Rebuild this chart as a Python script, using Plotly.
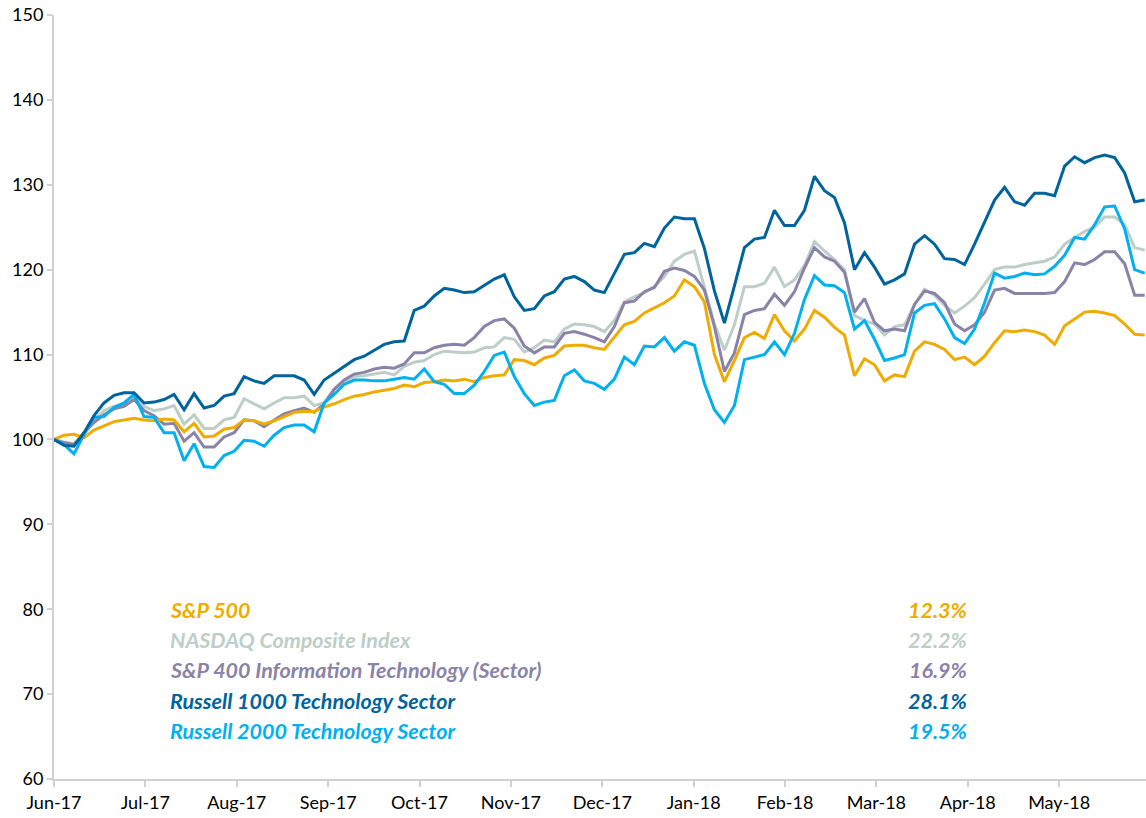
import numpy as np
import plotly.graph_objects as go

month_labels = ["Jun-17", "Jul-17", "Aug-17", "Sep-17", "Oct-17", "Nov-17",
                "Dec-17", "Jan-18", "Feb-18", "Mar-18", "Apr-18", "May-18"]

sp500 = [100, 100.5, 100.6, 100.2, 101.1, 101.6, 102.1, 102.3, 102.5, 102.3,
         102.2, 102.4, 102.3, 100.9, 101.9, 100.3, 100.4, 101.2, 101.4, 102.3,
         102.2, 101.8, 102.2, 102.7, 103.2, 103.3, 103.3, 103.8, 104.2, 104.7,
         105.1, 105.3, 105.6, 105.8, 106.0, 106.4, 106.2, 106.7, 106.8, 107.0,
         106.9, 107.1, 106.8, 107.3, 107.5, 107.6, 109.4, 109.3, 108.8, 109.6,
         109.9, 111.0, 111.1, 111.1, 110.8, 110.6, 112.1, 113.5, 113.9, 114.9,
         115.5, 116.1, 116.9, 118.8, 118.0, 116.2, 110.0, 106.8, 109.3, 112.0,
         112.6, 111.9, 114.7, 112.8, 111.6, 113.0, 115.2, 114.4, 113.2, 112.3,
         107.5, 109.5, 108.8, 106.9, 107.6, 107.4, 110.4, 111.5, 111.2, 110.6,
         109.4, 109.7, 108.8, 109.8, 111.4, 112.8, 112.7, 112.9, 112.7, 112.3,
         111.2, 113.4, 114.2, 115.0, 115.1, 114.9, 114.6, 113.6, 112.4, 112.3]

nasdaq = [100, 99.7, 99.5, 100.7, 102.3, 103.4, 103.9, 104.1, 105.0, 103.9,
          103.4, 103.6, 104.0, 101.8, 102.9, 101.3, 101.3, 102.3, 102.6, 104.8,
          104.2, 103.6, 104.3, 104.9, 104.9, 105.1, 104.0, 104.3, 105.9, 106.9,
          107.4, 107.5, 107.7, 107.9, 107.6, 108.6, 109.1, 109.3, 110.0, 110.4,
          110.3, 110.2, 110.3, 110.8, 110.9, 112.0, 111.8, 110.3, 110.8, 111.7,
          111.5, 113.0, 113.6, 113.5, 113.3, 112.7, 114.0, 116.2, 116.8, 117.3,
          118.0, 119.2, 121.0, 121.8, 122.2, 117.8, 113.6, 110.5, 113.5, 118.0,
          118.0, 118.4, 120.3, 118.0, 118.8, 120.5, 123.3, 122.2, 121.2, 120.0,
          114.6, 114.0, 113.6, 112.3, 113.3, 113.5, 115.9, 117.7, 117.0, 115.8,
          114.9, 115.7, 116.7, 118.3, 120.0, 120.3, 120.3, 120.6, 120.8, 121.0,
          121.5, 123.0, 123.8, 124.5, 125.0, 126.2, 126.2, 125.3, 122.6, 122.3]

sp400_it = [100, 99.6, 99.4, 100.8, 102.0, 102.9, 103.6, 103.9, 104.7, 103.4,
            102.8, 101.8, 101.9, 99.8, 100.8, 99.1, 99.1, 100.3, 100.8, 102.3,
            102.2, 101.5, 102.3, 103.0, 103.4, 103.7, 103.2, 104.2, 105.9, 107.0,
            107.7, 107.9, 108.3, 108.5, 108.4, 108.9, 110.2, 110.2, 110.8, 111.1,
            111.2, 111.1, 112.0, 113.3, 114.0, 114.2, 113.1, 111.0, 110.2, 110.9,
            110.9, 112.5, 112.7, 112.4, 112.0, 111.5, 113.3, 116.1, 116.3, 117.4,
            117.9, 119.8, 120.2, 119.9, 119.2, 117.6, 113.3, 108.0, 110.2, 114.7,
            115.2, 115.4, 117.1, 115.8, 117.4, 120.2, 122.6, 121.5, 121.0, 119.7,
            115.0, 116.6, 113.8, 112.8, 113.0, 112.8, 115.9, 117.5, 117.2, 116.1,
            113.6, 112.8, 113.5, 115.0, 117.6, 117.8, 117.2, 117.2, 117.2, 117.2,
            117.3, 118.6, 120.8, 120.6, 121.2, 122.1, 122.1, 120.7, 117.0, 117.0]

russell1000 = [100, 99.3, 99.2, 100.8, 102.8, 104.3, 105.2, 105.5, 105.5, 104.3,
               104.4, 104.7, 105.3, 103.5, 105.4, 103.7, 104.0, 105.1, 105.4, 107.4,
               106.9, 106.6, 107.5, 107.5, 107.5, 107.0, 105.3, 107.0, 107.8, 108.6,
               109.4, 109.8, 110.5, 111.2, 111.5, 111.6, 115.2, 115.7, 116.9, 117.8,
               117.6, 117.3, 117.4, 118.2, 118.9, 119.4, 116.8, 115.2, 115.4, 116.9,
               117.4, 118.9, 119.2, 118.6, 117.6, 117.3, 119.5, 121.8, 122.0, 123.1,
               122.7, 124.9, 126.2, 126.0, 126.0, 122.5, 117.5, 113.7, 118.1, 122.6,
               123.6, 123.8, 127.0, 125.2, 125.2, 127.0, 131.0, 129.3, 128.5, 125.5,
               120.0, 122.0, 120.3, 118.3, 118.8, 119.5, 123.0, 124.0, 123.0, 121.3,
               121.2, 120.6, 123.0, 125.6, 128.2, 129.7, 128.0, 127.6, 129.0, 129.0,
               128.7, 132.2, 133.3, 132.6, 133.2, 133.5, 133.2, 131.4, 128.0, 128.2]

russell2000 = [100, 99.4, 98.3, 100.6, 102.6, 102.7, 103.8, 104.3, 105.3, 102.7,
               102.6, 100.8, 100.8, 97.5, 99.5, 96.8, 96.7, 98.1, 98.6, 99.9,
               99.8, 99.2, 100.5, 101.4, 101.7, 101.7, 100.9, 104.3, 105.3, 106.5,
               107.0, 107.0, 106.9, 106.9, 107.1, 107.3, 107.1, 108.3, 106.8, 106.5,
               105.4, 105.4, 106.4, 108.0, 109.9, 110.3, 107.4, 105.4, 104.0, 104.4,
               104.6, 107.5, 108.2, 106.9, 106.6, 105.9, 107.1, 109.7, 108.8, 111.0,
               110.9, 112.0, 110.4, 111.5, 111.1, 106.6, 103.5, 102.0, 104.0, 109.4,
               109.7, 110.0, 111.5, 110.0, 112.5, 116.5, 119.3, 118.2, 118.1, 117.3,
               113.0, 114.0, 111.8, 109.3, 109.6, 110.0, 114.9, 115.8, 116.0, 114.2,
               112.0, 111.3, 113.0, 116.1, 119.6, 119.0, 119.2, 119.6, 119.4, 119.5,
               120.4, 121.7, 123.8, 123.6, 125.3, 127.4, 127.5, 124.8, 120.0, 119.6]

series_names = ["S&P 500", "NASDAQ Composite Index",
                "S&P 400 Information Technology (Sector)",
                "Russell 1000 Technology Sector", "Russell 2000 Technology Sector"]
series_returns = ["12.3%", "22.2%", "16.9%", "28.1%", "19.5%"]
series_values = [sp500, nasdaq, sp400_it, russell1000, russell2000]
colors = ["#F0AB00", "#BCCEC7", "#8A83A8", "#00649C", "#00B0F0"]

# sampling grid: one point roughly every 3.3 calendar days, in months since Jun-17
n = len(sp500)
step_months = 0.1095
months = np.arange(n) * step_months

fig = go.Figure()
draw_order = [1, 2, 0, 4, 3]
for i in draw_order:
    fig.add_trace(go.Scatter(x=months, y=series_values[i], mode="lines",
                             name=series_names[i],
                             line=dict(color=colors[i], width=3),
                             showlegend=False))

font_family = "Lato, Carlito, Calibri, sans-serif"
row_y = [0.221, 0.182, 0.1425, 0.102, 0.0625]
for i in range(len(series_names)):
    fig.add_annotation(xref="paper", yref="paper", x=0.104, y=row_y[i],
                       text="<b><i>%s</i></b>" % series_names[i], showarrow=False,
                       xanchor="left", yanchor="middle",
                       font=dict(family=font_family, size=21.5, color=colors[i]))
    fig.add_annotation(xref="paper", yref="paper", x=0.838, y=row_y[i],
                       text="<b><i>%s</i></b>" % series_returns[i], showarrow=False,
                       xanchor="right", yanchor="middle",
                       font=dict(family=font_family, size=21.5, color=colors[i]))

fig.update_layout(
    width=1146, height=818,
    margin=dict(l=54, r=0, t=15, b=39),
    plot_bgcolor="white", paper_bgcolor="white",
    font=dict(family=font_family, size=18, color="#000000"),
    xaxis=dict(range=[0, 11.95], tickmode="array",
               tickvals=list(range(len(month_labels))), ticktext=month_labels,
               showgrid=False, zeroline=False, showline=True,
               linecolor="#D0D0D0", linewidth=2, ticks="outside",
               tickcolor="#D0D0D0", ticklen=6, tickwidth=2,
               tickfont=dict(size=18)),
    yaxis=dict(range=[60, 150], tickmode="linear", tick0=60, dtick=10,
               showgrid=False, zeroline=False, showline=True,
               linecolor="#D0D0D0", linewidth=2, ticks="outside",
               tickcolor="#D0D0D0", ticklen=5, tickwidth=2,
               tickfont=dict(size=18)),
)

fig.write_html("out.html", config={"displayModeBar": False},
               post_script="document.body.style.margin='0';")
